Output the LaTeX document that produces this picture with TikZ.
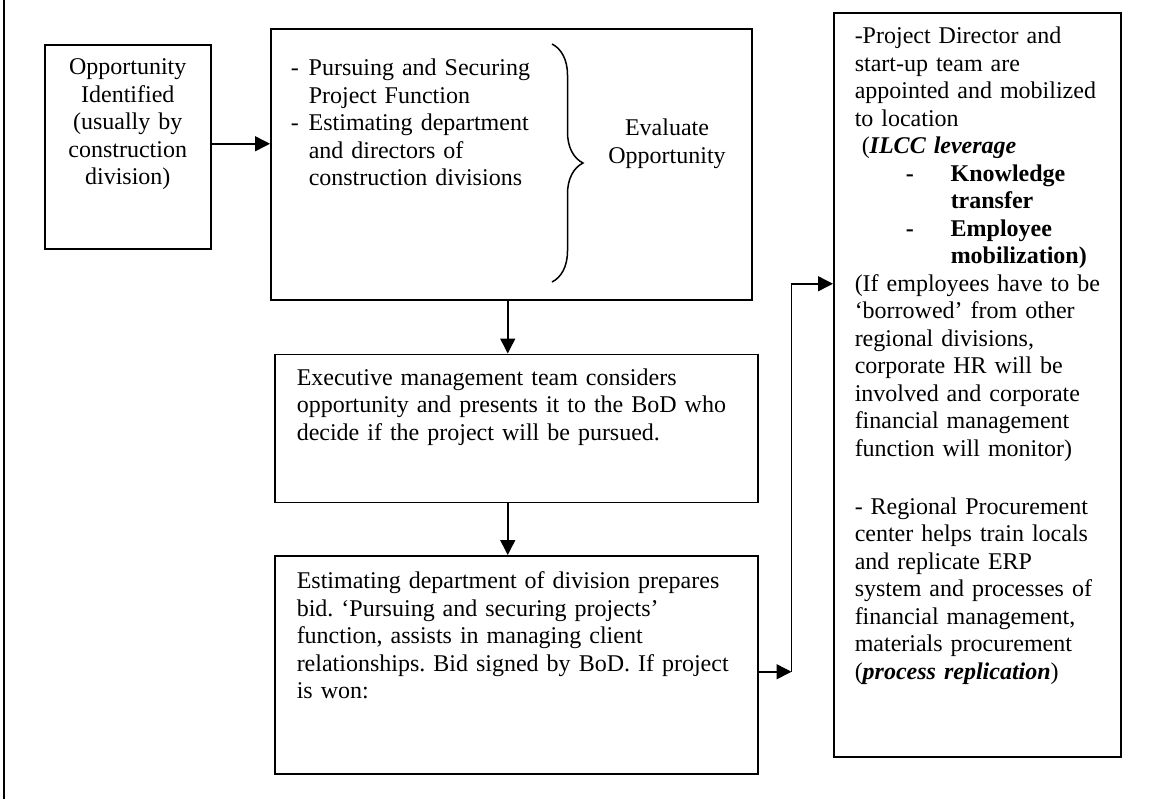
\documentclass[tikz,border=0pt]{standalone}
\usepackage{fontspec}
\setmainfont{Liberation Serif}
\frenchspacing
\usetikzlibrary{arrows.meta,positioning,decorations.pathreplacing}
\newcommand{\boxfont}{\fontsize{12pt}{13.75pt}\selectfont}

\begin{document}
\begin{tikzpicture}[
  x=0.5pt, y=-0.5pt,
  font=\boxfont,
  execute at begin node={\boxfont},
  >={Triangle[length=7.5pt, width=7.5pt]},
  box/.style={draw, line width=0.75pt, anchor=north west, align=left, text height=9pt},
  link/.style={->, line width=0.75pt},
]
\useasboundingbox (0,0) rectangle (1153,799);
% frame edge
\draw[line width=0.75pt] (4,0) -- (4,799);

% Left column
\node[box, align=center, inner xsep=4pt, inner ysep=6pt, text width=75pt, text depth=81pt] (opp) at (44,44)
  {Opportunity\\Identified\\(usually by\\construction\\division)};

% Middle column
\node[box, inner xsep=10pt, inner ysep=14.5pt, text width=220.5pt, text depth=97.5pt] (pursue) at (270,28)
  {\makebox[9pt][l]{-}Pursuing and Securing\\
   \hspace*{9pt}Project Function\\
   \makebox[9pt][l]{-}Estimating department\\
   \hspace*{9pt}and directors of\\
   \hspace*{9pt}construction divisions};
\node[anchor=base, align=center, inner sep=0pt] (evaluate) at (667,163) {Evaluate\\Opportunity};
\coordinate (brtop) at (552,44);
\coordinate (brbot) at (552,282);
\draw[line width=0.75pt, decorate, decoration={brace, amplitude=15.5pt}] (brtop) -- (brbot);

\node[box, below=26.5pt of pursue.south west, anchor=north west, xshift=2pt, inner xsep=11pt, inner ysep=6.5pt, text width=219.5pt, text depth=52pt] (exec)
  {Executive management team considers\\
   opportunity and presents it to the BoD who\\
   decide if the project will be pursued.};
\node[box, below=26pt of exec.south west, anchor=north west, inner xsep=11pt, inner ysep=7.5pt, text width=219.5pt, text depth=85pt] (bid)
  {Estimating department of division prepares\\
   bid. `Pursuing and securing projects'\\
   function, assists in managing client\\
   relationships. Bid signed by BoD. If project\\
   is won:};

% Right column
\node[box, inner xsep=10.5pt, inner ysep=6.5pt, text width=122.5pt, text depth=350pt] (director) at (833,12)
  {-Project Director and\\
   start-up team are\\
   appointed and mobilized\\
   to location\\
   \hspace*{3.5pt}(\textbf{\textit{ILCC leverage}}\\
   \hspace*{25.5pt}\makebox[22.5pt][l]{\textbf{-}}\textbf{Knowledge}\\
   \hspace*{48pt}\textbf{transfer}\\
   \hspace*{25.5pt}\makebox[22.5pt][l]{\textbf{-}}\textbf{Employee}\\
   \hspace*{48pt}\textbf{mobilization)}\\
   \mbox{(If employees have to be}\\
   `borrowed' from other\\
   regional divisions,\\
   corporate HR will be\\
   involved and corporate\\
   financial management\\
   function will monitor)\\[15.25pt]
   - Regional Procurement\\
   center helps train locals\\
   and replicate ERP\\
   system and processes of\\
   financial management,\\
   materials procurement\\
   (\textbf{\textit{process replication}})};

% Flow
\draw[link] ([yshift=1.5pt]opp.east) -- ([yshift=1.5pt]opp.east -| pursue.west);
\draw[link] ([xshift=-1.75pt]pursue.south) -- ([xshift=-1.75pt]pursue.south |- exec.north);
\draw[link] ([xshift=-4.25pt]exec.south) -- ([xshift=-4.25pt]exec.south |- bid.north);
\draw[link] ([yshift=-3.5pt]bid.east) -- ++(16.5pt,0) coordinate (elbow);
\draw[link] (elbow) |- ([yshift=50.5pt]director.west);
\end{tikzpicture}
\end{document}
